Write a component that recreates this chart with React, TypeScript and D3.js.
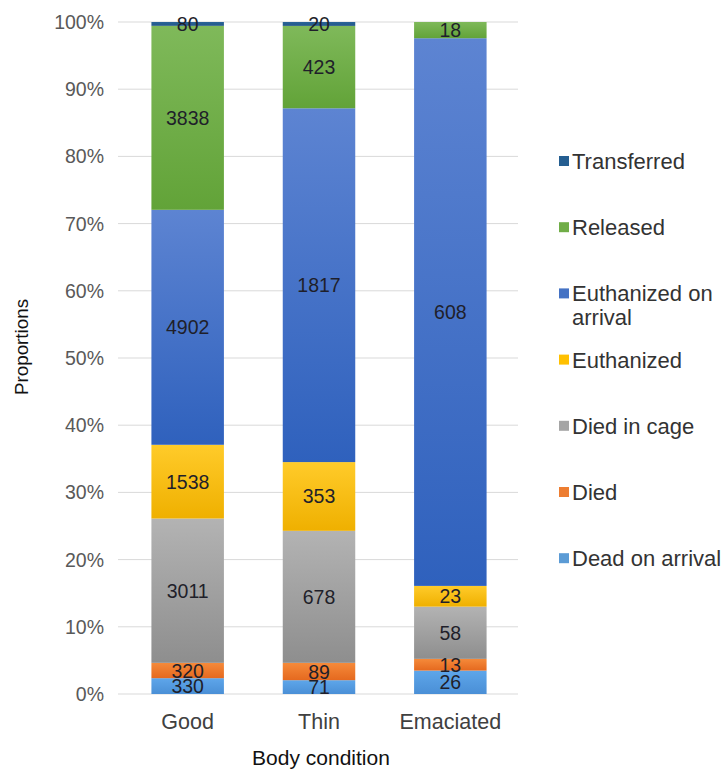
import React from "react";
import * as d3 from "d3";

// Body condition groups along the x axis
const categories = ["Good", "Thin", "Emaciated"];

// Outcome series, bottom of the stack first
const seriesNames = [
  "Dead on arrival",
  "Died",
  "Died in cage",
  "Euthanized",
  "Euthanized on arrival",
  "Released",
  "Transferred",
];

// Counts per outcome, one value per body condition
const deadOnArrival = [330, 71, 26];
const died = [320, 89, 13];
const diedInCage = [3011, 678, 58];
const euthanized = [1538, 353, 23];
const euthanizedOnArrival = [4902, 1817, 608];
const released = [3838, 423, 18];
const transferred = [80, 20, 0];

const yTicks = [0, 0.1, 0.2, 0.3, 0.4, 0.5, 0.6, 0.7, 0.8, 0.9, 1];

// Legend order (top to bottom)
const legendOrder = [
  "Transferred",
  "Released",
  "Euthanized on arrival",
  "Euthanized",
  "Died in cage",
  "Died",
  "Dead on arrival",
];

// Gradient stops per series: [top, bottom], plus a flat legend swatch colour
const seriesStyle: Record<string, { top: string; bottom: string; swatch: string }> = {
  "Dead on arrival": { top: "#5ea6ea", bottom: "#4a8fd6", swatch: "#5b9bd5" },
  Died: { top: "#f58a3a", bottom: "#e5691f", swatch: "#ed7d31" },
  "Died in cage": { top: "#b3b3b3", bottom: "#8e8e8e", swatch: "#a5a5a5" },
  Euthanized: { top: "#ffcb2a", bottom: "#efb000", swatch: "#ffc000" },
  "Euthanized on arrival": { top: "#5d84d2", bottom: "#2f61bd", swatch: "#4472c4" },
  Released: { top: "#7fb95a", bottom: "#62a338", swatch: "#70ad47" },
  Transferred: { top: "#2a6499", bottom: "#235887", swatch: "#255e91" },
};

const seriesValues: number[][] = [
  deadOnArrival,
  died,
  diedInCage,
  euthanized,
  euthanizedOnArrival,
  released,
  transferred,
];

const FONT = "'Liberation Sans', Arial, sans-serif";

export default function App() {
  const width = 726;
  const height = 774;
  const plotLeft = 122;
  const plotRight = 516;
  const plotTop = 22;
  const plotBottom = 694;

  const pad = 0.448;
  const x = d3
    .scaleBand<string>()
    .domain(categories)
    .range([plotLeft, plotRight])
    .paddingInner(pad)
    .paddingOuter(pad / 2);

  const y = d3.scaleLinear().domain([0, 1]).range([plotBottom, plotTop]);

  // Build rows of counts and normalise to proportions with d3.stack
  const rows = categories.map((c, i) => {
    const row: Record<string, number | string> = { category: c };
    seriesNames.forEach((s, k) => {
      row[s] = seriesValues[k][i];
    });
    return row;
  });

  const stack = d3
    .stack<Record<string, number | string>>()
    .keys(seriesNames)
    .value((d, key) => d[key] as number)
    .offset(d3.stackOffsetExpand);
  const layers = stack(rows);

  const gradId = (s: string) => "grad-" + s.replace(/\s+/g, "-");

  const legendX = 559;
  const legendTop = 161;
  const legendStep = 66.2;

  return (
    <svg width={width} height={height} style={{ display: "block", position: "absolute", left: 0, top: 0, background: "#fff" }}>
      <defs>
        {seriesNames.map((s) => (
          <linearGradient key={s} id={gradId(s)} x1="0" y1="0" x2="0" y2="1">
            <stop offset="0%" stopColor={seriesStyle[s].top} />
            <stop offset="100%" stopColor={seriesStyle[s].bottom} />
          </linearGradient>
        ))}
      </defs>
      <rect x={0} y={0} width={width} height={height} fill="#fff" />

      {/* gridlines */}
      {yTicks.map((t) => (
        <line
          key={"g" + t}
          x1={plotLeft - 4}
          x2={plotRight + 2}
          y1={y(t)}
          y2={y(t)}
          stroke="#d9d9d9"
          strokeWidth={1}
        />
      ))}

      {/* y tick labels */}
      {yTicks.map((t) => (
        <text
          key={"t" + t}
          x={104}
          y={y(t)}
          dy="0.36em"
          textAnchor="end"
          fontFamily={FONT}
          fontSize={19.5}
          fill="#595959"
        >
          {d3.format(".0%")(t)}
        </text>
      ))}

      {/* stacked bars */}
      {layers.map((layer) =>
        layer.map((seg, i) => {
          const v = seriesValues[seriesNames.indexOf(layer.key)][i];
          if (!v) return null;
          const x0 = x(categories[i]) as number;
          const top = y(seg[1]);
          const bot = y(seg[0]);
          return (
            <rect
              key={layer.key + i}
              x={x0}
              y={top}
              width={x.bandwidth()}
              height={Math.max(0, bot - top)}
              fill={`url(#${gradId(layer.key)})`}
            />
          );
        })
      )}

      {/* data labels */}
      {layers.map((layer) =>
        layer.map((seg, i) => {
          const v = seriesValues[seriesNames.indexOf(layer.key)][i];
          if (!v) return null;
          const cx = (x(categories[i]) as number) + x.bandwidth() / 2;
          const cy = (y(seg[0]) + y(seg[1])) / 2;
          return (
            <text
              key={"l" + layer.key + i}
              x={cx}
              y={cy}
              dy="0.36em"
              textAnchor="middle"
              fontFamily={FONT}
              fontSize={19.5}
              fill="#1f1f2a"
            >
              {v}
            </text>
          );
        })
      )}

      {/* category labels */}
      {categories.map((c) => (
        <text
          key={"c" + c}
          x={(x(c) as number) + x.bandwidth() / 2}
          y={729}
          textAnchor="middle"
          fontFamily={FONT}
          fontSize={21.5}
          fill="#404040"
        >
          {c}
        </text>
      ))}

      {/* axis titles */}
      <text x={321} y={765} textAnchor="middle" fontFamily={FONT} fontSize={21} fill="#111">
        Body condition
      </text>
      <text
        transform="translate(28,347) rotate(-90)"
        textAnchor="middle"
        fontFamily={FONT}
        fontSize={18.8}
        fill="#111"
      >
        Proportions
      </text>

      {/* legend */}
      {legendOrder.map((s, k) => {
        const cy = legendTop + k * legendStep;
        const lines = s === "Euthanized on arrival" ? ["Euthanized on", "arrival"] : [s];
        return (
          <g key={"lg" + s}>
            <rect x={legendX} y={cy - 5} width={10} height={10} fill={seriesStyle[s].swatch} />
            {lines.map((ln, j) => (
              <text
                key={ln}
                x={572}
                y={cy + j * 24}
                dy="0.36em"
                fontFamily={FONT}
                fontSize={22}
                fill="#333"
              >
                {ln}
              </text>
            ))}
          </g>
        );
      })}
    </svg>
  );
}
